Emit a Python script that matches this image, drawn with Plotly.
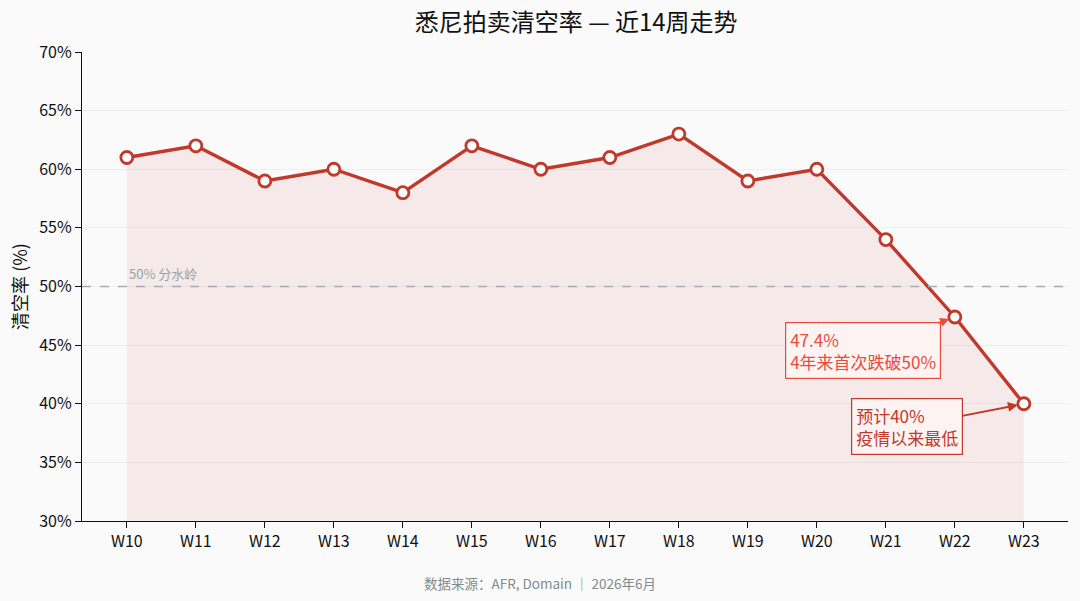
import plotly.graph_objects as go

weeks = ["W10", "W11", "W12", "W13", "W14", "W15", "W16", "W17", "W18", "W19", "W20", "W21", "W22", "W23"]
rates = [61, 62, 59, 60, 58, 62, 60, 61, 63, 59, 60, 54, 47.4, 40]
y_ticks = [30, 35, 40, 45, 50, 55, 60, 65, 70]
y_tick_labels = [f"{v}%" for v in y_ticks]
threshold = 50

FONT = "Noto Sans CJK SC"
RED = "#c0392b"

fig = go.Figure()
fig.add_trace(go.Scatter(
    x=list(range(len(weeks))), y=rates,
    mode="lines+markers",
    line=dict(color=RED, width=3.4),
    marker=dict(size=12, color="white", line=dict(color=RED, width=2.8)),
    fill="tozeroy", fillcolor="rgba(192,57,43,0.08)",
    hoverinfo="skip", showlegend=False,
))

fig.add_hline(y=threshold, line=dict(color="#a9adaf", width=1.6, dash="dash"))

fig.add_annotation(x=0, y=threshold, xref="x", yref="y", text="50% 分水岭",
                   showarrow=False, xanchor="left", yanchor="bottom", yshift=2,
                   font=dict(family=FONT, size=13, color="#95a5a6"))

fig.add_annotation(x=12, y=47.4, xref="x", yref="y", ax=-92, ay=34, axref="pixel", ayref="pixel",
                   text="47.4%<br>4年来首次跌破50%", showarrow=True,
                   arrowhead=2, arrowsize=1, arrowwidth=1.8, arrowcolor="#e74c3c",
                   align="left", font=dict(family=FONT, size=17, color="#e74c3c"),
                   bgcolor="#fdf3f3", bordercolor="#e74c3c", borderwidth=1.2, borderpad=4,
                   standoff=6)

fig.add_annotation(x=13, y=40, xref="x", yref="y", ax=-117, ay=23, axref="pixel", ayref="pixel",
                   text="预计40%<br>疫情以来最低", showarrow=True,
                   arrowhead=2, arrowsize=1, arrowwidth=2, arrowcolor=RED,
                   align="left", font=dict(family=FONT, size=17, color=RED),
                   bgcolor="#fdf3f3", bordercolor=RED, borderwidth=1.2, borderpad=4,
                   standoff=6)

fig.add_annotation(x=0.4645, y=-0.132, xref="paper", yref="paper", yanchor="middle",
                   text="数据来源：AFR, Domain ｜ 2026年6月",
                   showarrow=False, font=dict(family=FONT, size=13.5, color="#7f8c8d"))

fig.update_layout(
    width=1080, height=601,
    margin=dict(l=82, r=12, t=52, b=80),
    paper_bgcolor="#fafafa", plot_bgcolor="#fafafa",
    title=dict(text="悉尼拍卖清空率 — 近14周走势", x=0.5335, xanchor="center", y=0.963, yanchor="middle",
               font=dict(family=FONT, size=24, color="#111")),
    font=dict(family=FONT, size=16, color="#111"),
    xaxis=dict(range=[-0.65, 13.64], tickmode="array", tickvals=list(range(len(weeks))), ticktext=weeks,
               showgrid=False, zeroline=False, showline=True, linecolor="#111", linewidth=1.2,
               ticks="outside", ticklen=6, tickcolor="#111", tickfont=dict(size=16)),
    yaxis=dict(range=[30, 70], tickmode="array", tickvals=y_ticks, ticktext=y_tick_labels,
               showgrid=True, gridcolor="#eeeeee", gridwidth=1, zeroline=False,
               showline=True, linecolor="#111", linewidth=1.2,
               ticks="outside", ticklen=6, tickcolor="#111", tickfont=dict(size=16),
               title=dict(text="清空率 (%)", font=dict(size=18), standoff=6)),
)

fig.write_html("out.html")
